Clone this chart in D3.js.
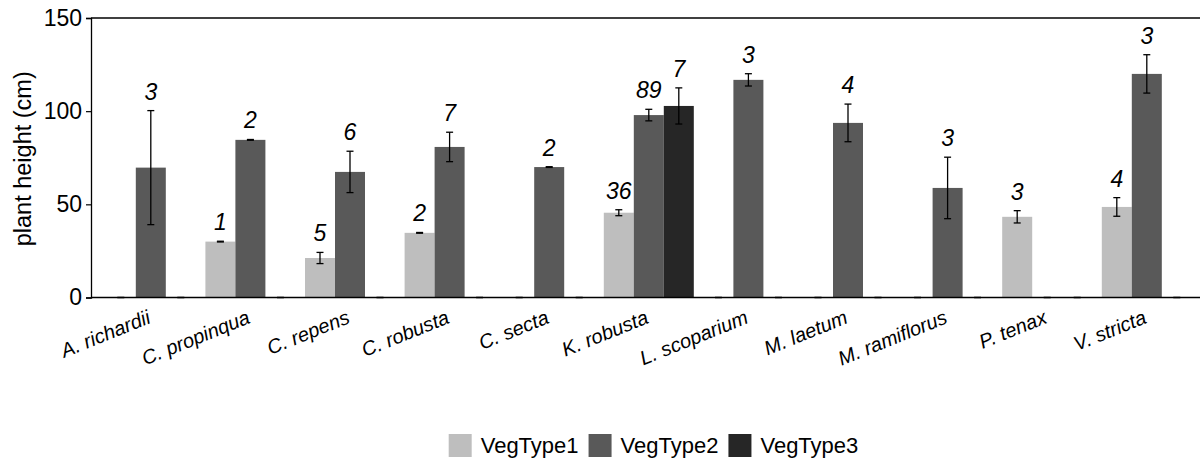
<!DOCTYPE html>
<html>
<head>
<meta charset="utf-8">
<script src="https://cdn.jsdelivr.net/npm/d3@7"></script>
<style>
  html, body { margin: 0; padding: 0; background: #fff; }
  svg { display: block; font-family: "Liberation Sans", Arial, sans-serif; }
</style>
</head>
<body>
<svg id="chart" width="1200" height="461"></svg>
<script>
// Species along the x axis
const species = ["A. richardii", "C. propinqua", "C. repens", "C. robusta", "C. secta",
  "K. robusta", "L. scoparium", "M. laetum", "M. ramiflorus", "P. tenax", "V. stricta"];

// Vegetation types (series)
const vegTypes = ["VegType1", "VegType2", "VegType3"];
const vegColors = ["#bebebe", "#595959", "#262626"];

// Mean plant height (cm); 0 where a species was not recorded in that type
const veg1Mean = [0, 30, 21.2, 34.7, 0, 45.5, 0, 0, 0, 43.3, 48.6];
const veg2Mean = [69.7, 84.6, 67.4, 80.8, 70.0, 97.9, 116.8, 93.7, 58.8, 0, 120.0];
const veg3Mean = [0, 0, 0, 0, 0, 102.8, 0, 0, 0, 0, 0];

// Standard error of the mean (cm)
const veg1Err = [0, 0.2, 3.0, 0.2, 0, 1.6, 0, 0, 0, 3.3, 5.0];
const veg2Err = [30.6, 0.2, 11.1, 7.9, 0.2, 3.1, 3.3, 10.1, 16.5, 0, 10.3];
const veg3Err = [0, 0, 0, 0, 0, 9.7, 0, 0, 0, 0, 0];

// Sample sizes printed above each bar (null = no plants)
const veg1N = [null, 1, 5, 2, null, 36, null, null, null, 3, 4];
const veg2N = [3, 2, 6, 7, 2, 89, 3, 4, 3, null, 3];
const veg3N = [null, null, null, null, null, 7, null, null, null, null, null];

const yTicks = [0, 50, 100, 150];
const yTitle = "plant height (cm)";

const means = [veg1Mean, veg2Mean, veg3Mean];
const errs = [veg1Err, veg2Err, veg3Err];
const counts = [veg1N, veg2N, veg3N];

const rows = [];
species.forEach((sp, i) => {
  vegTypes.forEach((vt, j) => {
    rows.push({ species: sp, type: vt, color: vegColors[j],
      mean: means[j][i], err: errs[j][i], n: counts[j][i] });
  });
});

const svg = d3.select("#chart");
const axisLeft = 91, plotTop = 18, plotBottom = 297.5, plotRight = 1200;

const x0 = d3.scaleBand().domain(species).range([101, 1196.6])
  .paddingInner(0.0964).paddingOuter(0.0482);
const x1 = d3.scaleBand().domain(vegTypes).range([0, x0.bandwidth()]);
const y = d3.scaleLinear().domain([0, 150]).range([plotBottom, plotTop]);

// Bars
svg.append("g").selectAll("rect")
  .data(rows.filter(d => d.mean > 0))
  .join("rect")
  .attr("x", d => x0(d.species) + x1(d.type))
  .attr("y", d => y(d.mean))
  .attr("width", x1.bandwidth())
  .attr("height", d => y(0) - y(d.mean))
  .attr("fill", d => d.color);

// Error bars (whisker + caps)
const capHalf = 3.5;
const eb = svg.append("g").attr("stroke", "#000").attr("stroke-width", 1.3);
rows.forEach(d => {
  const cx = x0(d.species) + x1(d.type) + x1.bandwidth() / 2;
  const yTop = y(d.mean + d.err), yBot = y(d.mean - d.err);
  if (d.err > 0) {
    eb.append("line").attr("x1", cx).attr("x2", cx).attr("y1", yTop).attr("y2", yBot);
  }
  eb.append("line").attr("x1", cx - capHalf).attr("x2", cx + capHalf).attr("y1", yTop).attr("y2", yTop);
  eb.append("line").attr("x1", cx - capHalf).attr("x2", cx + capHalf).attr("y1", yBot).attr("y2", yBot);
});

// Sample size labels
svg.append("g").selectAll("text")
  .data(rows.filter(d => d.n !== null))
  .join("text")
  .attr("x", d => x0(d.species) + x1(d.type) + x1.bandwidth() / 2)
  .attr("y", d => y(d.mean + d.err) - 11)
  .attr("text-anchor", "middle")
  .attr("font-size", 23)
  .attr("font-style", "italic")
  .attr("fill", "#000")
  .text(d => d.n);

// Frame: top and bottom lines
svg.append("line").attr("x1", axisLeft).attr("x2", plotRight)
  .attr("y1", plotTop).attr("y2", plotTop).attr("stroke", "#000").attr("stroke-width", 1.3);
svg.append("line").attr("x1", axisLeft).attr("x2", plotRight)
  .attr("y1", plotBottom).attr("y2", plotBottom).attr("stroke", "#000").attr("stroke-width", 1.6);

// Y axis
const yAxis = svg.append("g").attr("transform", `translate(${axisLeft},0)`)
  .call(d3.axisLeft(y).tickValues(yTicks).tickSize(5).tickPadding(4).tickFormat(d3.format("d")));
yAxis.select(".domain").attr("stroke", "#000").attr("stroke-width", 1.3);
yAxis.selectAll(".tick line").attr("stroke", "#000").attr("stroke-width", 1.2);
yAxis.selectAll(".tick text").attr("font-size", 23).attr("fill", "#000")
  .attr("font-family", "Liberation Sans, Arial, sans-serif");

svg.append("text")
  .attr("transform", `translate(23,${(plotTop + plotBottom) / 2 + 1}) rotate(-90)`)
  .attr("text-anchor", "middle")
  .attr("dy", "0.35em")
  .attr("font-size", 23.5)
  .attr("fill", "#000")
  .text(yTitle);

// Species labels, italic, slanted 22 degrees upward, right end under the group centre
svg.append("g").selectAll("text")
  .data(species)
  .join("text")
  .attr("transform", d => `translate(${x0(d) + x0.bandwidth() / 2 + 1},${plotBottom + 25}) rotate(-22)`)
  .attr("text-anchor", "end")
  .attr("font-size", 20)
  .attr("font-style", "italic")
  .attr("fill", "#000")
  .text(d => d);

// Legend
const legend = svg.append("g");
let lx = 0;
vegTypes.forEach((vt, j) => {
  legend.append("rect").attr("x", lx).attr("y", 0).attr("width", 23).attr("height", 23)
    .attr("fill", vegColors[j]);
  const t = legend.append("text").attr("x", lx + 32).attr("y", 19)
    .attr("font-size", 22).attr("fill", "#000").text(vt);
  lx += 32 + t.node().getComputedTextLength() + 10;
});
const legendWidth = lx - 10;
legend.attr("transform", `translate(${653.5 - legendWidth / 2},434)`);
</script>
</body>
</html>
